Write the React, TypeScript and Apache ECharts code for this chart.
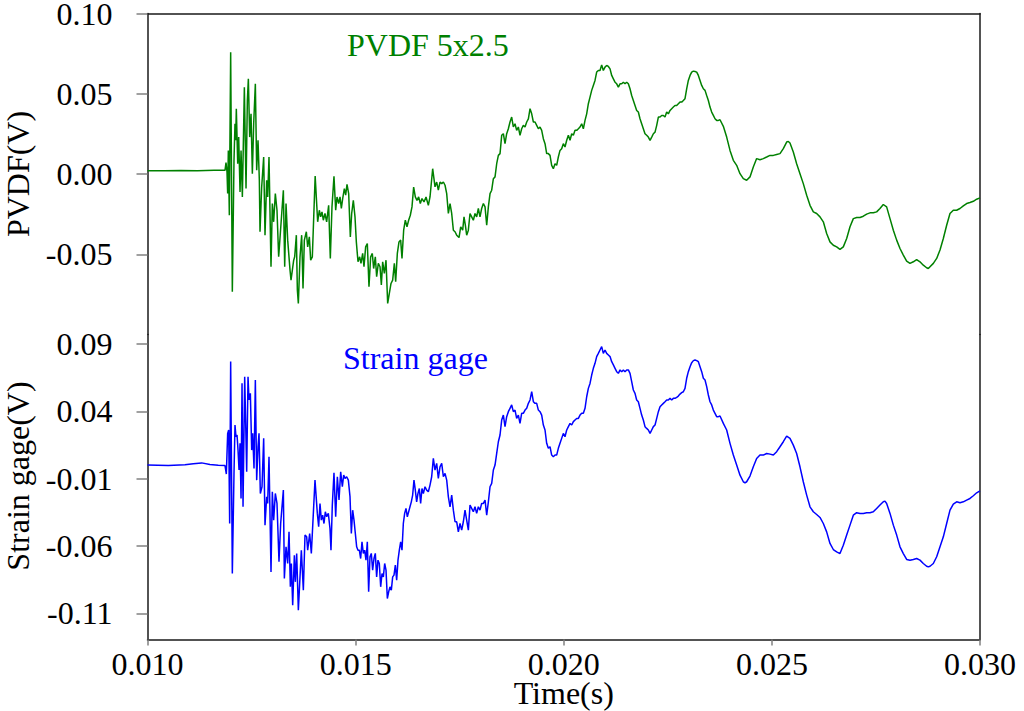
import React, { useEffect, useRef } from "react";
import * as echarts from "echarts";

// ---- PVDF sensor signal (s, V) ----
const pvdfTime = [
  0.0100, 0.0104, 0.0108, 0.0112, 0.0116, 0.011862,
  0.011886, 0.011910, 0.011926, 0.011942, 0.011966, 0.011998, 0.012038, 0.012078, 0.012102, 0.012118,
  0.012134, 0.012167, 0.012191, 0.012223, 0.012247, 0.012279, 0.012327, 0.012367, 0.012399, 0.012423,
  0.012455, 0.012487, 0.012519, 0.012551, 0.012591, 0.012623, 0.012655, 0.012687, 0.012703, 0.012743,
  0.012791, 0.012823, 0.012863, 0.012887, 0.012919, 0.012967, 0.012999, 0.013031, 0.013071, 0.013111,
  0.013151, 0.013191, 0.013264, 0.013296, 0.013328, 0.013368, 0.013424, 0.013448, 0.013480, 0.013512,
  0.013536, 0.013576, 0.013600, 0.013624, 0.013664, 0.013704, 0.013736, 0.013768, 0.013816, 0.013848,
  0.013888, 0.013920, 0.013960, 0.014028,
  0.014088, 0.014128, 0.014160, 0.014192, 0.014224, 0.014264, 0.014304, 0.014352, 0.014392, 0.014432,
  0.014480, 0.014521, 0.014553, 0.014593, 0.014625, 0.014657, 0.014689, 0.014729, 0.014761, 0.014793,
  0.014833, 0.014873, 0.014905, 0.014945, 0.014985, 0.015017, 0.015057, 0.015097, 0.015129, 0.015169,
  0.015201, 0.015241, 0.015281, 0.015321, 0.015361, 0.015401, 0.015433, 0.015473, 0.015505, 0.015545,
  0.015586, 0.015618, 0.015650, 0.015690, 0.015730, 0.015770, 0.015810, 0.015850, 0.015890, 0.015930,
  0.015962, 0.016002, 0.016042, 0.016082, 0.016114, 0.016154, 0.016194, 0.016234, 0.016274, 0.016314,
  0.016354, 0.016394, 0.016434, 0.016474, 0.016514, 0.016554, 0.016594, 0.016643, 0.016691, 0.016747,
  0.016787, 0.016851, 0.016907, 0.016947, 0.016987, 0.017027, 0.017068, 0.017108, 0.017148, 0.017188,
  0.017228, 0.017268, 0.017308, 0.017348, 0.017388, 0.017428, 0.017484, 0.017524, 0.017572, 0.017604,
  0.017636, 0.017668, 0.017708, 0.017748, 0.017788, 0.017828, 0.017868, 0.017908, 0.017948, 0.017988,
  0.018028, 0.018069, 0.018109, 0.018149, 0.018189, 0.018229, 0.018269, 0.018309, 0.018349, 0.018389,
  0.018429, 0.018469, 0.018509, 0.018549, 0.018589, 0.018629, 0.018669, 0.018709, 0.018749, 0.018789,
  0.018829, 0.018869, 0.018909, 0.018949, 0.018989, 0.019029, 0.019070, 0.019110, 0.019150, 0.019190,
  0.019230, 0.019270, 0.019310, 0.019350, 0.019390, 0.019430, 0.019470, 0.019510, 0.019550, 0.019590,
  0.019630, 0.019670, 0.019710, 0.019750, 0.019790, 0.019830, 0.019870, 0.019910, 0.019950, 0.019990,
  0.020030, 0.020071, 0.020111, 0.020151, 0.020191, 0.020231, 0.020271, 0.020311, 0.020351, 0.020391,
  0.020431, 0.020471, 0.020511, 0.020551, 0.020591, 0.020631, 0.020671, 0.020711, 0.020751, 0.020791,
  0.020831, 0.020871, 0.020911, 0.020951, 0.020991, 0.021031, 0.021072, 0.021112, 0.021152, 0.021192,
  0.021232, 0.021272, 0.021312, 0.021352, 0.021392, 0.021432, 0.021472, 0.021512, 0.021552, 0.021592,
  0.021632, 0.021672, 0.021712, 0.021752, 0.021792, 0.021832, 0.021872, 0.021912, 0.021952, 0.021992,
  0.022032, 0.022073, 0.022113, 0.022153, 0.022193, 0.022233, 0.022273, 0.022313, 0.022353, 0.022393,
  0.022433, 0.022473, 0.022513, 0.022553, 0.022593, 0.022633, 0.022673, 0.022713, 0.022753, 0.022793,
  0.022833, 0.022873, 0.022913, 0.022953, 0.022993, 0.023034, 0.023074, 0.023114, 0.023154, 0.023194,
  0.023234, 0.023274, 0.023314, 0.023354, 0.023394, 0.023434, 0.023474, 0.023514, 0.023554, 0.023594,
  0.023634, 0.023674, 0.023714, 0.023754,
  0.023834, 0.023914, 0.023994, 0.024074, 0.024154, 0.024234, 0.024314, 0.024394, 0.024474, 0.024554,
  0.024634, 0.024714, 0.024794, 0.024875, 0.024955, 0.025035, 0.025115, 0.025195, 0.025275, 0.025355,
  0.025395, 0.025435, 0.025515, 0.025595, 0.025675, 0.025755, 0.025836, 0.025916, 0.025996, 0.026076,
  0.026156, 0.026236, 0.026316, 0.026396, 0.026476, 0.026556, 0.026636, 0.026716, 0.026797, 0.026877,
  0.026957, 0.027037, 0.027117, 0.027197, 0.027277, 0.027357, 0.027437, 0.027517, 0.027597, 0.027677,
  0.027757, 0.027838, 0.027918, 0.027998, 0.028078, 0.028158, 0.028238, 0.028318, 0.028398, 0.028478,
  0.028558, 0.028638, 0.028718, 0.028758, 0.028799, 0.028879, 0.028959, 0.029039, 0.029119, 0.029199,
  0.029279, 0.029359, 0.029439, 0.029519, 0.029599, 0.029679, 0.029759, 0.029840, 0.029920, 0.030000,
];
const pvdfVolt = [
  0.0021, 0.0020, 0.0022, 0.0021, 0.0023, 0.0023,
  0.0071, 0.0013, -0.0122, 0.0147, -0.0257, 0.0759, -0.0734, 0.0085, 0.0313, 0.0210,
  0.0407, 0.0064, 0.0230, -0.0112, 0.0147, -0.0143, 0.0541, -0.0091, 0.0458, 0.0593,
  0.0230, 0.0375, 0.0002, 0.0313, 0.0562, 0.0023, 0.0210, -0.0039, -0.0360, -0.0081,
  0.0106, -0.0381, -0.0039, -0.0143, 0.0106, -0.0578, -0.0184, -0.0298, -0.0122, -0.0226,
  -0.0516, -0.0371, -0.0101, -0.0578, -0.0184, -0.0412, -0.0599, -0.0661, -0.0599, -0.0537,
  -0.0516, -0.0381, -0.0723, -0.0806, -0.0516, -0.0381, -0.0713, -0.0412, -0.0360, -0.0454,
  -0.0392, -0.0537, -0.0516, -0.0012,
  -0.0298, -0.0226, -0.0267, -0.0236, -0.0288, -0.0246, -0.0298, -0.0195, -0.0526, -0.0205,
  -0.0014, -0.0226, -0.0143, -0.0184, -0.0143, -0.0215, -0.0153, -0.0091, -0.0132, -0.0064,
  -0.0122, -0.0392, -0.0246, -0.0164, -0.0267, -0.0423, -0.0547, -0.0516, -0.0557, -0.0495,
  -0.0578, -0.0454, -0.0433, -0.0703, -0.0516, -0.0495, -0.0589, -0.0516, -0.0640, -0.0557,
  -0.0578, -0.0692, -0.0547, -0.0620, -0.0537, -0.0806, -0.0744, -0.0682, -0.0661, -0.0557,
  -0.0671, -0.0495, -0.0423, -0.0412, -0.0526, -0.0350, -0.0288, -0.0329, -0.0288, -0.0257,
  -0.0205, -0.0081, -0.0143, -0.0164, -0.0143, -0.0184, -0.0153, -0.0174, -0.0143, -0.0195,
  -0.0143, 0.0033, -0.0080, -0.0050, -0.0101, -0.0050, -0.0060, -0.0050, -0.0070, -0.0122,
  -0.0246, -0.0184, -0.0246, -0.0350, -0.0360, -0.0381, -0.0396, -0.0329, -0.0350, -0.0267,
  -0.0319, -0.0381, -0.0350, -0.0246, -0.0267, -0.0288, -0.0246, -0.0267, -0.0215, -0.0267,
  -0.0215, -0.0184, -0.0205, -0.0319, -0.0205, -0.0122, -0.0101, -0.0029, -0.0018, 0.0064,
  0.0116, 0.0127, 0.0241, 0.0251, 0.0189, 0.0251, 0.0282, 0.0324, 0.0355, 0.0293,
  0.0313, 0.0272, 0.0293, 0.0241, 0.0282, 0.0303, 0.0293, 0.0324, 0.0344, 0.0407,
  0.0375, 0.0324, 0.0324, 0.0303, 0.0282, 0.0293, 0.0272, 0.0220, 0.0189, 0.0127,
  0.0127, 0.0116, 0.0054, 0.0033, 0.0064, 0.0054, 0.0106, 0.0147, 0.0158, 0.0189,
  0.0168, 0.0210, 0.0241, 0.0210, 0.0251, 0.0241, 0.0272, 0.0272, 0.0282, 0.0293,
  0.0313, 0.0282, 0.0334, 0.0375, 0.0438, 0.0479, 0.0521, 0.0552, 0.0583, 0.0635,
  0.0645, 0.0645, 0.0680, 0.0645, 0.0666, 0.0676, 0.0670, 0.0655, 0.0614, 0.0593,
  0.0572, 0.0562, 0.0541, 0.0562, 0.0562, 0.0572, 0.0562, 0.0572, 0.0562, 0.0531,
  0.0489, 0.0458, 0.0427, 0.0396, 0.0386, 0.0344, 0.0313, 0.0282, 0.0251, 0.0241,
  0.0230, 0.0210, 0.0230, 0.0251, 0.0261, 0.0303, 0.0355, 0.0355, 0.0365, 0.0365,
  0.0355, 0.0386, 0.0375, 0.0396, 0.0407, 0.0417, 0.0427, 0.0427, 0.0438, 0.0448,
  0.0448, 0.0458, 0.0469, 0.0531, 0.0583, 0.0614, 0.0635, 0.0641, 0.0639, 0.0635,
  0.0614, 0.0583, 0.0552, 0.0531, 0.0521, 0.0489, 0.0458, 0.0417, 0.0386, 0.0365,
  0.0344, 0.0334, 0.0334, 0.0338,
  0.0297, 0.0230, 0.0147, 0.0085, 0.0054, 0.0002, -0.0029, -0.0039, -0.0018, 0.0044,
  0.0096, 0.0089, 0.0096, 0.0106, 0.0116, 0.0116, 0.0122, 0.0127, 0.0158, 0.0199,
  0.0203, 0.0193, 0.0137, 0.0064, 0.0002, -0.0060, -0.0132, -0.0195, -0.0236, -0.0246,
  -0.0267, -0.0298, -0.0371, -0.0423, -0.0444, -0.0454, -0.0470, -0.0454, -0.0402, -0.0329,
  -0.0278, -0.0271, -0.0271, -0.0263, -0.0250, -0.0242, -0.0242, -0.0236, -0.0215, -0.0190,
  -0.0205, -0.0278, -0.0350, -0.0412, -0.0464, -0.0505, -0.0543, -0.0557, -0.0547, -0.0533,
  -0.0547, -0.0568, -0.0584, -0.0589, -0.0578, -0.0557, -0.0526, -0.0474, -0.0402, -0.0319,
  -0.0246, -0.0226, -0.0226, -0.0215, -0.0199, -0.0184, -0.0178, -0.0170, -0.0157, -0.0149,
];

// ---- Strain gage signal (s, V) ----
const strainTime = [
  0.0100, 0.0105, 0.0109, 0.0111, 0.0113, 0.0115, 0.0117, 0.011862,
  0.011894, 0.011926, 0.011950, 0.011974, 0.011998, 0.012038, 0.012078, 0.012102, 0.012126, 0.012151,
  0.012175, 0.012199, 0.012223, 0.012247, 0.012271, 0.012295, 0.012335, 0.012383, 0.012415, 0.012439,
  0.012471, 0.012503, 0.012527, 0.012559, 0.012591, 0.012623, 0.012655, 0.012679, 0.012711, 0.012751,
  0.012791, 0.012823, 0.012863, 0.012887, 0.012919, 0.012967, 0.012999, 0.013031, 0.013071, 0.013111,
  0.013159, 0.013199, 0.013264, 0.013288, 0.013328, 0.013368, 0.013400, 0.013432, 0.013456, 0.013488,
  0.013528, 0.013552, 0.013584, 0.013624, 0.013696, 0.013744, 0.013784, 0.013824, 0.013848, 0.013896,
  0.013936, 0.014024,
  0.014080, 0.014112, 0.014144, 0.014176, 0.014208, 0.014240, 0.014272, 0.014304, 0.014344, 0.014384,
  0.014408, 0.014440, 0.014480, 0.014521, 0.014561, 0.014601, 0.014641, 0.014681, 0.014713, 0.014745,
  0.014785, 0.014825, 0.014865, 0.014897, 0.014929, 0.014961, 0.014993, 0.015025, 0.015057, 0.015089,
  0.015121, 0.015153, 0.015185, 0.015217, 0.015249, 0.015281, 0.015313, 0.015345, 0.015377, 0.015409,
  0.015441, 0.015473, 0.015505, 0.015537, 0.015569, 0.015602, 0.015634, 0.015666, 0.015698, 0.015730,
  0.015762, 0.015794, 0.015826, 0.015858, 0.015890, 0.015922, 0.015954, 0.015986, 0.016018, 0.016050,
  0.016082, 0.016114, 0.016146, 0.016178, 0.016210, 0.016242, 0.016274, 0.016306, 0.016338, 0.016370,
  0.016402, 0.016434, 0.016466, 0.016498, 0.016530, 0.016562, 0.016594, 0.016627, 0.016667, 0.016707,
  0.016747,
  0.016787, 0.016827, 0.016867, 0.016907, 0.016947, 0.016987, 0.017027, 0.017068, 0.017108, 0.017148,
  0.017188, 0.017228, 0.017268, 0.017308, 0.017348, 0.017388, 0.017428, 0.017468, 0.017508, 0.017548,
  0.017588, 0.017628, 0.017668, 0.017708, 0.017748, 0.017788, 0.017828, 0.017868, 0.017908, 0.017948,
  0.017988, 0.018028, 0.018069, 0.018109, 0.018149, 0.018189, 0.018229, 0.018269, 0.018309, 0.018349,
  0.018389, 0.018429, 0.018469, 0.018509, 0.018549, 0.018589, 0.018629, 0.018669, 0.018709, 0.018749,
  0.018789, 0.018829, 0.018869, 0.018909, 0.018949, 0.018989, 0.019029, 0.019070, 0.019110, 0.019150,
  0.019190, 0.019230, 0.019270, 0.019310, 0.019350, 0.019390, 0.019430, 0.019470, 0.019510, 0.019550,
  0.019590, 0.019630, 0.019670, 0.019710, 0.019750, 0.019790, 0.019830, 0.019870, 0.019910, 0.019950,
  0.019990, 0.020030, 0.020071, 0.020111, 0.020151, 0.020191, 0.020231, 0.020271, 0.020311, 0.020351,
  0.020391, 0.020431, 0.020471, 0.020511, 0.020551, 0.020591, 0.020631, 0.020671, 0.020711, 0.020751,
  0.020791, 0.020831, 0.020871, 0.020911, 0.020951, 0.020991, 0.021031, 0.021072, 0.021112, 0.021152,
  0.021192, 0.021232, 0.021272, 0.021312, 0.021352, 0.021392, 0.021432, 0.021472, 0.021512, 0.021552,
  0.021592, 0.021632, 0.021672, 0.021712, 0.021752, 0.021792, 0.021832, 0.021872, 0.021912, 0.021952,
  0.021992, 0.022032, 0.022073, 0.022113, 0.022153, 0.022193, 0.022233, 0.022273, 0.022313, 0.022353,
  0.022393, 0.022433, 0.022473, 0.022513, 0.022553, 0.022593, 0.022633, 0.022673, 0.022713, 0.022753,
  0.022793, 0.022833, 0.022873, 0.022913, 0.022953, 0.022993, 0.023034, 0.023074, 0.023114, 0.023154,
  0.023194, 0.023234, 0.023274, 0.023314, 0.023354, 0.023394, 0.023434, 0.023474, 0.023514, 0.023554,
  0.023594, 0.023634, 0.023674, 0.023714, 0.023754,
  0.023834, 0.023914, 0.023994, 0.024074, 0.024154, 0.024234, 0.024314, 0.024354, 0.024394, 0.024474,
  0.024554, 0.024634, 0.024714, 0.024794, 0.024875, 0.024955, 0.025035, 0.025115, 0.025195, 0.025275,
  0.025355, 0.025435, 0.025515, 0.025595, 0.025675, 0.025755, 0.025836, 0.025916, 0.025996, 0.026076,
  0.026156, 0.026236, 0.026316, 0.026396, 0.026476, 0.026556, 0.026636, 0.026716, 0.026797, 0.026877,
  0.026957, 0.027037, 0.027117, 0.027197, 0.027277, 0.027357, 0.027437, 0.027517, 0.027597, 0.027677,
  0.027717, 0.027757, 0.027838, 0.027918, 0.027998, 0.028078, 0.028158, 0.028238, 0.028318, 0.028398,
  0.028478, 0.028558, 0.028638, 0.028718, 0.028758, 0.028799, 0.028879, 0.028959, 0.029039, 0.029119,
  0.029199, 0.029279, 0.029359, 0.029439, 0.029519, 0.029599, 0.029679, 0.029759, 0.029840, 0.029920,
  0.030000,
];
const strainVolt = [
  0.0002, -0.0001, 0.0004, 0.0012, 0.0018, 0.0006, 0.0001, -0.0002,
  -0.0065, 0.0237, 0.0262, -0.0432, 0.0770, -0.0803, -0.0060, 0.0299, 0.0212, 0.0225,
  0.0113, -0.0035, 0.0163, -0.0246, 0.0609, -0.0308, 0.0658, -0.0048, 0.0658, 0.0485,
  0.0534, 0.0113, 0.0237, -0.0023, 0.0633, -0.0110, 0.0138, 0.0237, -0.0209, -0.0159,
  0.0200, -0.0444, -0.0233, -0.0283, 0.0064, -0.0791, -0.0196, -0.0407, -0.0209, -0.0283,
  -0.0716, -0.0432, -0.0184, -0.0840, -0.0605, -0.0729, -0.0494, -0.0902, -0.0729, -0.1038,
  -0.0667, -0.0865, -0.0654, -0.1075, -0.0630, -0.0927, -0.0518, -0.0531, -0.0630, -0.0506,
  -0.0654, -0.0110,
  -0.0357, -0.0456, -0.0283, -0.0407, -0.0370, -0.0432, -0.0345, -0.0382, -0.0357, -0.0469,
  -0.0630, -0.0295, -0.0055, -0.0382, -0.0085, -0.0258, -0.0048, -0.0159, -0.0073, -0.0097,
  -0.0085, -0.0110, -0.0233, -0.0506, -0.0333, -0.0407, -0.0506, -0.0605, -0.0630, -0.0630,
  -0.0692, -0.0568, -0.0654, -0.0630, -0.0704, -0.0568, -0.0939, -0.0679, -0.0654, -0.0778,
  -0.0692, -0.0654, -0.0828, -0.0704, -0.0729, -0.0902, -0.0803, -0.0828, -0.0729, -0.0778,
  -0.0989, -0.0939, -0.0902, -0.0927, -0.0828, -0.0815, -0.0741, -0.0853, -0.0704, -0.0630,
  -0.0568, -0.0630, -0.0432, -0.0357, -0.0320, -0.0382, -0.0345, -0.0308, -0.0271, -0.0221,
  -0.0110, -0.0184, -0.0271, -0.0209, -0.0172, -0.0283, -0.0172, -0.0209, -0.0159, -0.0184,
  -0.0196,
  -0.0147, -0.0085, 0.0051, -0.0035, 0.0014, -0.0097, -0.0011, 0.0014, -0.0085, -0.0060,
  -0.0110, -0.0234, -0.0308, -0.0221, -0.0333, -0.0419, -0.0419, -0.0494, -0.0432, -0.0481,
  -0.0419, -0.0333, -0.0407, -0.0481, -0.0295, -0.0320, -0.0345, -0.0308, -0.0357, -0.0308,
  -0.0333, -0.0283, -0.0283, -0.0258, -0.0370, -0.0271, -0.0159, -0.0134, -0.0035, 0.0002,
  0.0088, 0.0175, 0.0225, 0.0336, 0.0373, 0.0287, 0.0361, 0.0398, 0.0423, 0.0448,
  0.0398, 0.0410, 0.0348, 0.0373, 0.0311, 0.0386, 0.0386, 0.0410, 0.0423, 0.0460,
  0.0485, 0.0547, 0.0472, 0.0460, 0.0460, 0.0410, 0.0398, 0.0373, 0.0299, 0.0262,
  0.0163, 0.0126, 0.0138, 0.0076, 0.0064, 0.0076, 0.0076, 0.0126, 0.0163, 0.0200,
  0.0237, 0.0212, 0.0262, 0.0287, 0.0311, 0.0299, 0.0324, 0.0336, 0.0348, 0.0348,
  0.0373, 0.0386, 0.0386, 0.0423, 0.0509, 0.0571, 0.0608, 0.0670, 0.0720, 0.0757,
  0.0807, 0.0831, 0.0856, 0.0881, 0.0831, 0.0856, 0.0831, 0.0819, 0.0807, 0.0769,
  0.0745, 0.0720, 0.0695, 0.0683, 0.0708, 0.0695, 0.0708, 0.0695, 0.0708, 0.0708,
  0.0683, 0.0621, 0.0559, 0.0534, 0.0485, 0.0472, 0.0423, 0.0373, 0.0336, 0.0287,
  0.0274, 0.0262, 0.0237, 0.0262, 0.0287, 0.0299, 0.0348, 0.0398, 0.0435, 0.0448,
  0.0460, 0.0472, 0.0485, 0.0485, 0.0497, 0.0485, 0.0497, 0.0497, 0.0504, 0.0514,
  0.0529, 0.0539, 0.0546, 0.0571, 0.0646, 0.0695, 0.0732, 0.0762, 0.0777, 0.0782,
  0.0777, 0.0769, 0.0732, 0.0695, 0.0646, 0.0633, 0.0584, 0.0522, 0.0472, 0.0448,
  0.0410, 0.0386, 0.0361, 0.0361, 0.0366,
  0.0311, 0.0262, 0.0163, 0.0076, 0.0002, -0.0073, -0.0122, -0.0130, -0.0122, -0.0080,
  -0.0011, 0.0051, 0.0076, 0.0076, 0.0088, 0.0083, 0.0076, 0.0101, 0.0138, 0.0175,
  0.0217, 0.0200, 0.0150, 0.0088, -0.0011, -0.0122, -0.0221, -0.0308, -0.0345, -0.0365,
  -0.0387, -0.0432, -0.0494, -0.0580, -0.0625, -0.0642, -0.0655, -0.0593, -0.0518, -0.0444,
  -0.0370, -0.0352, -0.0357, -0.0357, -0.0352, -0.0352, -0.0345, -0.0320, -0.0295, -0.0271,
  -0.0266, -0.0283, -0.0357, -0.0444, -0.0518, -0.0605, -0.0655, -0.0699, -0.0704, -0.0699,
  -0.0692, -0.0704, -0.0729, -0.0749, -0.0754, -0.0749, -0.0729, -0.0679, -0.0605, -0.0531,
  -0.0432, -0.0333, -0.0288, -0.0271, -0.0278, -0.0271, -0.0258, -0.0246, -0.0226, -0.0204,
  -0.0189,
];

// ---- axes ----
const timeRange = [0.010, 0.030];
const pvdfRange = [-0.1, 0.1];
const strainRange = [-0.1293, 0.0971];
const pvdfTicks = [-0.05, 0.0, 0.05, 0.1];
const strainTicks = [-0.11, -0.06, -0.01, 0.04, 0.09];

const FONT = "Liberation Serif";

export default function App() {
  const ref = useRef<HTMLDivElement>(null);

  useEffect(() => {
    if (!ref.current) return;
    const chart = echarts.init(ref.current, null, { renderer: "svg" });

    const axisLineStyle = { color: "#1a1a1a", width: 1.5 };
    const tickLineStyle = { color: "#808080", width: 1.5 };
    const labelStyle = { fontFamily: FONT, fontSize: 32, color: "#000" };
    const nameStyle = { ...labelStyle, lineHeight: 27 };

    const pvdfData = pvdfTime.map((t, i) => [t, pvdfVolt[i]]);
    const strainData = strainTime.map((t, i) => [t, strainVolt[i]]);

    const option: any = {
      animation: false,
      backgroundColor: "#ffffff",
      grid: [
        { left: 147.5, top: 13.5, right: 44, height: 321, containLabel: false, outerBoundsMode: "none" },
        { left: 147.5, top: 334.5, right: 44, height: 305, containLabel: false, outerBoundsMode: "none" },
      ],
      xAxis: [
        {
          type: "value",
          gridIndex: 0,
          position: "top",
          min: timeRange[0],
          max: timeRange[1],
          interval: 0.005,
          axisLine: { show: true, onZero: false, lineStyle: axisLineStyle },
          axisTick: { show: false },
          axisLabel: { show: false },
          splitLine: { show: false },
        },
        {
          type: "value",
          gridIndex: 1,
          position: "bottom",
          min: timeRange[0],
          max: timeRange[1],
          interval: 0.005,
          axisLine: { show: true, onZero: false, lineStyle: axisLineStyle },
          axisTick: { show: true, inside: false, length: 6, lineStyle: tickLineStyle },
          axisLabel: {
            ...labelStyle,
            margin: 8,
            formatter: (v: number) => v.toFixed(3),
          },
          splitLine: { show: false },
          name: "Time(s)",
          nameLocation: "middle",
          nameGap: 40,
          nameMoveOverlap: false,
          nameTextStyle: nameStyle,
        },
      ],
      yAxis: [
        {
          type: "value",
          gridIndex: 0,
          position: "left",
          min: pvdfRange[0],
          max: pvdfRange[1],
          axisLine: { show: true, onZero: false, lineStyle: axisLineStyle },
          axisTick: {
            show: true,
            inside: false,
            length: 11,
            lineStyle: tickLineStyle,
            customValues: pvdfTicks,
          },
          axisLabel: {
            ...labelStyle,
            lineHeight: 26,
            margin: 35,
            customValues: pvdfTicks,
            formatter: (v: number) => v.toFixed(2),
          },
          splitLine: { show: false },
          name: "PVDF(V)",
          nameLocation: "middle",
          nameGap: 116,
          nameTextStyle: nameStyle,
        },
        {
          type: "value",
          gridIndex: 1,
          position: "left",
          min: strainRange[0],
          max: strainRange[1],
          axisLine: { show: true, onZero: false, lineStyle: axisLineStyle },
          axisTick: {
            show: true,
            inside: false,
            length: 11,
            lineStyle: tickLineStyle,
            customValues: strainTicks,
          },
          axisLabel: {
            ...labelStyle,
            lineHeight: 26,
            margin: 35,
            customValues: strainTicks,
            formatter: (v: number) => v.toFixed(2),
          },
          splitLine: { show: false },
          name: "Strain gage(V)",
          nameLocation: "middle",
          nameGap: 116,
          nameTextStyle: { ...nameStyle, padding: [0, 0, 0, 22] },
        },
        {
          type: "value",
          gridIndex: 0,
          position: "right",
          min: 0,
          max: 1,
          axisLine: { show: true, onZero: false, lineStyle: axisLineStyle },
          axisTick: { show: false },
          axisLabel: { show: false },
          splitLine: { show: false },
        },
        {
          type: "value",
          gridIndex: 1,
          position: "right",
          min: 0,
          max: 1,
          axisLine: { show: true, onZero: false, lineStyle: axisLineStyle },
          axisTick: { show: false },
          axisLabel: { show: false },
          splitLine: { show: false },
        },
      ],
      graphic: [
        {
          type: "text",
          left: 347,
          top: 29,
          style: {
            text: "PVDF 5x2.5",
            fill: "#008000",
            font: `32px "${FONT}"`,
          },
        },
        {
          type: "text",
          left: 343,
          top: 342,
          style: {
            text: "Strain gage",
            fill: "#0000ff",
            font: `32px "${FONT}"`,
          },
        },
      ],
      series: [
        {
          name: "PVDF 5x2.5",
          type: "line",
          xAxisIndex: 0,
          yAxisIndex: 0,
          data: pvdfData,
          showSymbol: false,
          symbol: "none",
          lineStyle: { color: "#008000", width: 1.5 },
          itemStyle: { color: "#008000" },
        },
        {
          name: "Strain gage",
          type: "line",
          xAxisIndex: 1,
          yAxisIndex: 1,
          data: strainData,
          showSymbol: false,
          symbol: "none",
          lineStyle: { color: "#0000ff", width: 1.5 },
          itemStyle: { color: "#0000ff" },
        },
      ],
    };

    chart.setOption(option);
    return () => chart.dispose();
  }, []);

  return (
    <div
      ref={ref}
      style={{
        position: "fixed",
        left: 0,
        top: 0,
        width: 1024,
        height: 711,
        background: "#ffffff",
      }}
    />
  );
}
